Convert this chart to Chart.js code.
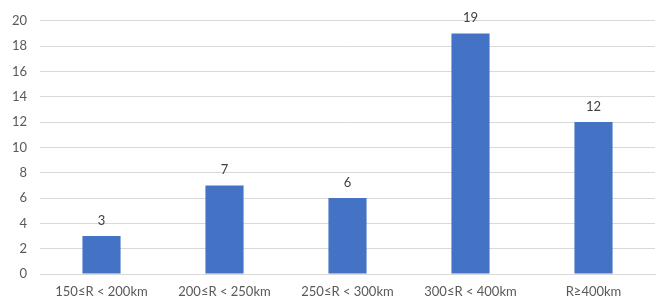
<!DOCTYPE html>
<html>
<head>
<meta charset="utf-8">
<script src="https://cdn.jsdelivr.net/npm/chart.js@4/dist/chart.umd.min.js"></script>
<style>
  html, body { margin: 0; padding: 0; background: #fff; }
  #wrap { width: 664px; height: 303px; }
</style>
</head>
<body>
<div id="wrap"><canvas id="myChart"></canvas></div>
<script>
var categories = ['150≤R < 200km', '200≤R < 250km', '250≤R < 300km', '300≤R < 400km', 'R≥400km'];
var counts = [3, 7, 6, 19, 12];
var yTicks = [0, 2, 4, 6, 8, 10, 12, 14, 16, 18, 20];

// draws the value above each bar
var valueLabels = {
    id: 'valueLabels',
    afterDatasetsDraw: function(chart) {
        var ctx = chart.ctx;
        var meta = chart.getDatasetMeta(0);
        ctx.save();
        ctx.font = '13px Lato, "Open Sans", sans-serif';
        ctx.fillStyle = '#404040';
        ctx.textAlign = 'center';
        ctx.textBaseline = 'bottom';
        meta.data.forEach(function(bar, i) {
            ctx.fillText(counts[i], bar.x, bar.y - 9);
        });
        ctx.restore();
    }
};

const ctx = document.getElementById('myChart');
new Chart(ctx, {
    type: 'bar',
    data: {
        labels: categories,
        datasets: [{
            data: counts,
            backgroundColor: '#4472C4',
            barPercentage: 0.31,
            categoryPercentage: 1
        }]
    },
    plugins: [valueLabels],
    options: {
        responsive: true,
        maintainAspectRatio: false,
        animation: false,
        layout: { padding: { top: 16, right: 9, bottom: 7, left: 0 } },
        plugins: {
            legend: { display: false },
            tooltip: { enabled: false }
        },
        scales: {
            x: {
                grid: { display: false, drawTicks: false },
                border: { color: '#d9d9d9' },
                ticks: {
                    color: '#595959',
                    padding: 10,
                    maxRotation: 0,
                    autoSkip: false,
                    font: { family: 'Lato, "Open Sans", sans-serif', size: 13 }
                },
                afterFit: function(axis) { axis.height = 22; }
            },
            y: {
                min: 0,
                max: 20,
                afterBuildTicks: function(axis) {
                    axis.ticks = yTicks.map(function(v) { return { value: v }; });
                },
                grid: { color: '#d9d9d9', drawTicks: false },
                border: { display: false },
                ticks: {
                    color: '#595959',
                    padding: 13,
                    font: { family: 'Lato, "Open Sans", sans-serif', size: 13 }
                },
                afterFit: function(axis) { axis.width = 40; }
            }
        }
    }
});
</script>
</body>
</html>
